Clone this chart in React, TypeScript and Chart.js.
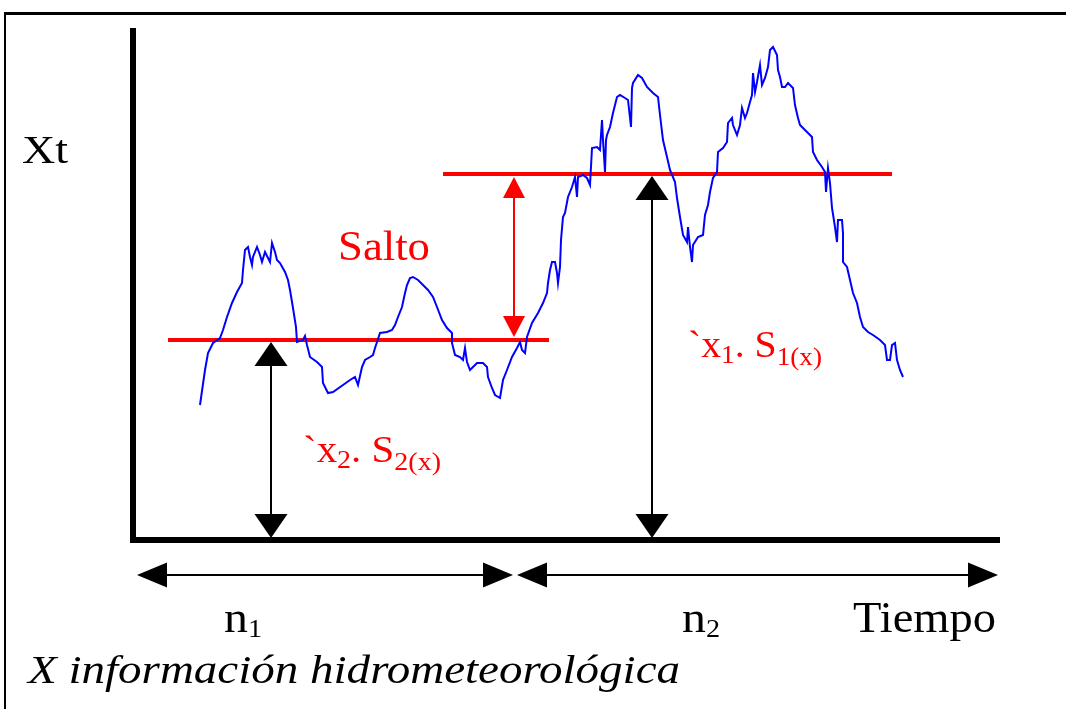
import React, { useEffect, useRef } from "react";
import { Chart, registerables } from "chart.js";

Chart.register(...registerables);

// ---- Data (time steps, hydro-meteorological series Xt) ----
const timeSteps = [
  67, 72, 75, 80, 87, 90, 94, 99, 104, 109, 110, 112, 115, 117, 119, 120, 124, 127, 129, 132,
  135, 137, 139, 142, 144, 147, 152, 155, 157, 160, 163, 164, 170, 172, 174, 177, 184, 189, 190, 195,
  200, 210, 217, 222, 225, 227, 229, 232, 237, 240, 242, 244, 247, 254, 259, 262, 265, 269, 272, 274,
  277, 280, 285, 290, 295, 300, 304, 309, 314, 319, 319, 322, 327, 330, 332, 334, 337, 340, 344, 350,
  354, 355, 359, 362, 367, 370, 374, 379, 384, 387, 389, 392, 394, 399, 405, 410, 414, 415, 417, 419,
  422, 424, 425, 427, 428, 430, 432, 435, 439, 442, 444, 445, 450, 454, 457, 459, 464, 467, 469, 470,
  472, 473, 474, 477, 480, 484, 487, 492, 495, 498, 499, 500, 505, 509, 514, 520, 525, 527, 530, 534,
  537, 542, 544, 547, 550, 554, 555, 557, 559, 560, 565, 570, 572, 575, 577, 580, 584, 585, 590, 594,
  595, 599, 600, 604, 607, 609, 612, 614, 617, 619, 620, 622, 624, 627, 629, 632, 635, 637, 640, 644,
  645, 647, 649, 652, 655, 660, 662, 665, 667, 672, 679, 680, 684, 689, 692, 693, 695, 697, 699, 702,
  704, 705, 709, 710, 710, 714, 717, 720, 724, 727, 730, 735, 740, 747, 752, 754, 757, 759, 762, 764,
  767, 770,
];
const xtValues = [
  135, 170, 187, 197, 202, 210, 223, 237, 248, 257, 270, 290, 293, 283, 275, 283, 293, 285, 278, 288,
  282, 278, 297, 288, 280, 277, 268, 260, 250, 232, 213, 198, 200, 204, 195, 183, 178, 173, 157, 147,
  148, 155, 160, 163, 155, 164, 173, 180, 183, 185, 192, 198, 207, 208, 210, 215, 223, 233, 247, 255,
  262, 263, 260, 255, 250, 243, 233, 220, 212, 207, 197, 185, 183, 180, 192, 178, 170, 173, 177, 177,
  173, 163, 152, 145, 142, 160, 170, 183, 192, 198, 190, 187, 203, 217, 227, 237, 247, 257, 270, 278,
  278, 267, 257, 273, 300, 323, 327, 343, 353, 363, 343, 363, 365, 362, 355, 392, 393, 390, 420, 400,
  368, 400, 405, 413, 427, 443, 445, 442, 440, 413, 452, 457, 465, 462, 453, 447, 443, 425, 400, 383,
  370, 358, 342, 323, 305, 298, 313, 293, 278, 295, 303, 305, 325, 335, 348, 362, 368, 388, 392, 398,
  417, 422, 415, 405, 415, 432, 422, 427, 438, 445, 467, 448, 458, 475, 455, 462, 473, 490, 493, 485,
  470, 463, 453, 453, 457, 452, 435, 422, 415, 410, 403, 388, 380, 373, 368, 348, 372, 357, 332, 313,
  298, 320, 320, 307, 278, 273, 260, 247, 237, 223, 213, 208, 205, 200, 195, 180, 180, 195, 197, 180,
  170, 163,
];

// mean levels of the two sub-series
const meanSecond = 200; // x̄2 (first period)
const meanFirst = 366; // x̄1 (second period)
const lowMeanSpan = [35, 416];
const highMeanSpan = [310, 759];
// periods n1, n2 on the time axis
const periodN1 = [4, 380];
const periodN2 = [384, 865];
const periodLevel = -35;
// arrows marking the means and the jump
const meanArrowTimes = [138, 519];
const jumpTime = 381;
// axis extents
const axisTimeEnd = 867;
const axisLevelTop = 512;

const SERIF = '"Liberation Serif", Tinos, "Times New Roman", Times, serif';

type Part = { text: string; size: number; dy?: number; italic?: boolean };

function drawFit(
  ctx: CanvasRenderingContext2D,
  parts: Part[],
  x: number,
  baseline: number,
  targetWidth: number,
  color: string
) {
  ctx.save();
  ctx.fillStyle = color;
  ctx.textBaseline = "alphabetic";
  ctx.textAlign = "left";
  let natural = 0;
  const widths: number[] = [];
  for (const p of parts) {
    ctx.font = `${p.italic ? "italic " : ""}${p.size}px ${SERIF}`;
    const w = ctx.measureText(p.text).width;
    widths.push(w);
    natural += w;
  }
  const sx = targetWidth / natural;
  ctx.translate(x, baseline);
  ctx.scale(sx, 1);
  let cx = 0;
  parts.forEach((p, i) => {
    ctx.font = `${p.italic ? "italic " : ""}${p.size}px ${SERIF}`;
    ctx.fillText(p.text, cx, p.dy || 0);
    cx += widths[i];
  });
  ctx.restore();
}

function vArrow(
  ctx: CanvasRenderingContext2D,
  x: number,
  yTop: number,
  yBot: number,
  color: string,
  lw: number,
  headW: number,
  headL: number
) {
  ctx.save();
  ctx.strokeStyle = color;
  ctx.fillStyle = color;
  ctx.lineWidth = lw;
  ctx.beginPath();
  ctx.moveTo(x, yTop + headL - 1);
  ctx.lineTo(x, yBot - headL + 1);
  ctx.stroke();
  ctx.beginPath();
  ctx.moveTo(x, yTop);
  ctx.lineTo(x - headW / 2, yTop + headL);
  ctx.lineTo(x + headW / 2, yTop + headL);
  ctx.closePath();
  ctx.fill();
  ctx.beginPath();
  ctx.moveTo(x, yBot);
  ctx.lineTo(x - headW / 2, yBot - headL);
  ctx.lineTo(x + headW / 2, yBot - headL);
  ctx.closePath();
  ctx.fill();
  ctx.restore();
}

function hArrow(
  ctx: CanvasRenderingContext2D,
  xL: number,
  xR: number,
  y: number,
  color: string,
  lw: number,
  headW: number,
  headL: number
) {
  ctx.save();
  ctx.strokeStyle = color;
  ctx.fillStyle = color;
  ctx.lineWidth = lw;
  ctx.beginPath();
  ctx.moveTo(xL + headL - 1, y);
  ctx.lineTo(xR - headL + 1, y);
  ctx.stroke();
  ctx.beginPath();
  ctx.moveTo(xL, y);
  ctx.lineTo(xL + headL, y - headW / 2);
  ctx.lineTo(xL + headL, y + headW / 2);
  ctx.closePath();
  ctx.fill();
  ctx.beginPath();
  ctx.moveTo(xR, y);
  ctx.lineTo(xR - headL, y - headW / 2);
  ctx.lineTo(xR - headL, y + headW / 2);
  ctx.closePath();
  ctx.fill();
  ctx.restore();
}

const diagramPlugin = {
  id: "diagram",
  afterDatasetsDraw(chart: any) {
    const ctx: CanvasRenderingContext2D = chart.ctx;
    const xs = chart.scales.x;
    const ys = chart.scales.y;
    const X = (v: number) => xs.getPixelForValue(v);
    const Y = (v: number) => ys.getPixelForValue(v);

    // frame
    ctx.save();
    ctx.fillStyle = "#000";
    ctx.fillRect(4, 12, chart.width - 4, 3);
    ctx.fillRect(4, 12, 2, chart.height - 12);
    ctx.restore();

    // mean arrows
    vArrow(ctx, X(meanArrowTimes[0]), Y(meanSecond) + 2, Y(0) - 2, "#000", 2, 33, 24);
    vArrow(ctx, X(meanArrowTimes[1]), Y(meanFirst) + 2, Y(0) - 2, "#000", 2, 33, 24);
    // jump arrow
    vArrow(ctx, X(jumpTime), Y(meanFirst) + 3, Y(meanSecond) - 3, "#ff0000", 2, 22, 21);
    // period arrows
    hArrow(ctx, X(periodN1[0]), X(periodN1[1]), Y(periodLevel), "#000", 2, 25, 30);
    hArrow(ctx, X(periodN2[0]), X(periodN2[1]), Y(periodLevel), "#000", 2, 25, 30);

    // texts
    drawFit(ctx, [{ text: "Xt", size: 40 }], 22, 163, 46, "#000");
    drawFit(ctx, [{ text: "Salto", size: 42 }], 338, 260, 92, "#ff0000");
    drawFit(
      ctx,
      [
        { text: "`x", size: 38 },
        { text: "2", size: 26, dy: 6 },
        { text: ". S", size: 38 },
        { text: "2(x)", size: 26, dy: 8 },
      ],
      303,
      462,
      138,
      "#ff0000"
    );
    drawFit(
      ctx,
      [
        { text: "`x", size: 38 },
        { text: "1", size: 26, dy: 6 },
        { text: ". S", size: 38 },
        { text: "1(x)", size: 26, dy: 8 },
      ],
      688,
      357,
      134,
      "#ff0000"
    );
    drawFit(ctx, [{ text: "n", size: 44 }, { text: "1", size: 26, dy: 5 }], 224, 632, 38, "#000");
    drawFit(ctx, [{ text: "n", size: 44 }, { text: "2", size: 26, dy: 5 }], 682, 632, 38, "#000");
    drawFit(ctx, [{ text: "Tiempo", size: 45 }], 853, 632, 143, "#000");
    drawFit(
      ctx,
      [{ text: "X información hidrometeorológica", size: 40, italic: true }],
      28,
      683,
      652,
      "#000"
    );
  },
};

export default function App() {
  const ref = useRef<HTMLCanvasElement | null>(null);

  useEffect(() => {
    if (!ref.current) return;
    const series = timeSteps.map((t, i) => ({ x: t, y: xtValues[i] }));
    const chart = new Chart(ref.current, {
      type: "line",
      data: {
        datasets: [
          {
            label: "Xt",
            data: series,
            borderColor: "#0000ff",
            borderWidth: 2,
            pointRadius: 0,
            tension: 0,
          },
          {
            label: "x̄2",
            data: [
              { x: lowMeanSpan[0], y: meanSecond },
              { x: lowMeanSpan[1], y: meanSecond },
            ],
            borderColor: "#ff0000",
            borderWidth: 4,
            pointRadius: 0,
            borderCapStyle: "butt",
          },
          {
            label: "x̄1",
            data: [
              { x: highMeanSpan[0], y: meanFirst },
              { x: highMeanSpan[1], y: meanFirst },
            ],
            borderColor: "#ff0000",
            borderWidth: 4,
            pointRadius: 0,
            borderCapStyle: "butt",
          },
          {
            label: "eje Xt",
            data: [
              { x: 0, y: -3 },
              { x: 0, y: axisLevelTop },
            ],
            borderColor: "#000",
            borderWidth: 6,
            pointRadius: 0,
            borderCapStyle: "butt",
          },
          {
            label: "eje tiempo",
            data: [
              { x: -3, y: 0 },
              { x: axisTimeEnd, y: 0 },
            ],
            borderColor: "#000",
            borderWidth: 6,
            pointRadius: 0,
            borderCapStyle: "butt",
          },
        ],
      },
      options: {
        responsive: false,
        animation: false,
        layout: { padding: 0 },
        plugins: { legend: { display: false }, tooltip: { enabled: false } },
        events: [],
        scales: {
          x: { type: "linear", min: -133, max: 933, display: false },
          y: { type: "linear", min: -169, max: 540, display: false },
        },
      },
      plugins: [diagramPlugin],
    });
    return () => chart.destroy();
  }, []);

  return (
    <div style={{ position: "fixed", left: 0, top: 0, width: 1066, height: 709, background: "#fff" }}>
      <canvas ref={ref} width={1066} height={709} style={{ display: "block" }} />
    </div>
  );
}
